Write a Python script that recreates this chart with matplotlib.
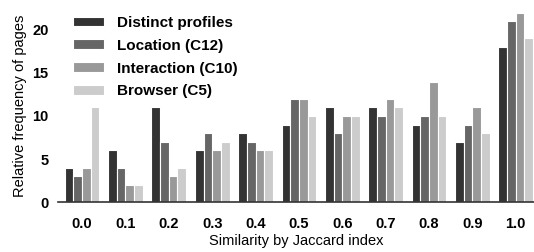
import matplotlib

matplotlib.use("Agg")
import matplotlib.pyplot as plt
import numpy as np

categories = ["0.0", "0.1", "0.2", "0.3", "0.4", "0.5", "0.6", "0.7", "0.8", "0.9", "1.0"]
series_names = ["Distinct profiles", "Location (C12)", "Interaction (C10)", "Browser (C5)"]
distinct = [4, 6, 11, 6, 8, 9, 11, 11, 9, 7, 18]
location = [3, 4, 7, 8, 7, 12, 8, 10, 10, 9, 21]
interaction = [4, 2, 3, 6, 6, 12, 10, 12, 14, 11, 22]
browser = [11, 2, 4, 7, 6, 10, 10, 11, 10, 8, 19]
colors = ["#333333", "#666666", "#999999", "#cccccc"]

plt.rcParams["font.family"] = ["Liberation Sans", "DejaVu Sans"]

fig = plt.figure(figsize=(5.34, 2.52), dpi=100)
ax = fig.add_axes([0.109, 0.198, 0.891, 0.762])

x = np.arange(len(categories))
width = 0.2
for i, (name, vals) in enumerate(zip(series_names, [distinct, location, interaction, browser])):
    ax.bar(x + (i - 1.5) * width, vals, width, color=colors[i], edgecolor="white",
           linewidth=0.8, label=name)

ax.set_xlim(-0.55, 10.42)
ax.set_ylim(0, 22.3)
ax.set_xticks(x)
ax.set_xticklabels(categories, fontweight="bold", fontsize=10.5)
ax.set_yticks([0, 5, 10, 15, 20])
ax.set_yticklabels(["0", "5", "10", "15", "20"], fontweight="bold", fontsize=10.5)
ax.tick_params(axis="x", length=0, pad=10.5)
ax.tick_params(axis="y", length=0, pad=7)
for side in ["left", "right", "top"]:
    ax.spines[side].set_visible(False)
ax.spines["bottom"].set_color("#333333")
ax.spines["bottom"].set_linewidth(1.2)
ax.set_ylabel("Relative frequency of pages", fontsize=10.5)
ax.set_xlabel("Similarity by Jaccard index", fontsize=10.5, labelpad=2.5)

ax.legend(loc="upper left", bbox_to_anchor=(0.0315, 0.97), frameon=False,
          borderaxespad=0, borderpad=0,
          prop={"weight": "bold", "size": 11}, handlelength=2.0, handleheight=0.6,
          handletextpad=0.85, labelspacing=0.58)

fig.savefig("out.png", dpi=100)
